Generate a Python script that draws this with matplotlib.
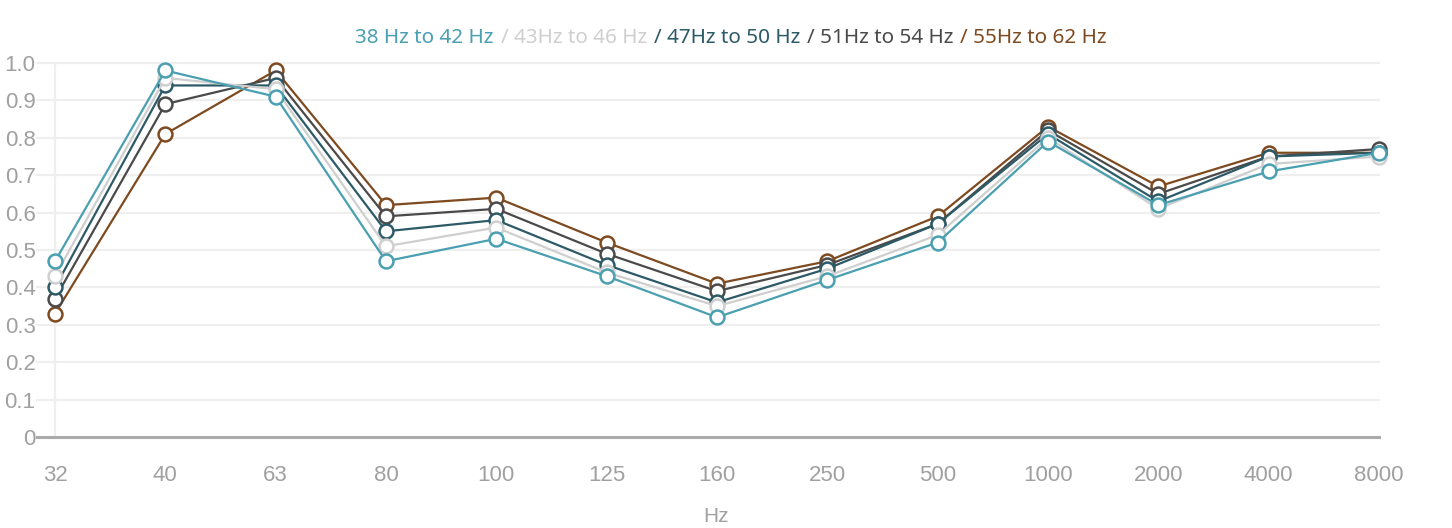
import matplotlib
matplotlib.use("Agg")
import matplotlib.pyplot as plt
from matplotlib.offsetbox import TextArea, HPacker, AnchoredOffsetbox

categories = ["32", "40", "63", "80", "100", "125", "160", "250", "500", "1000", "2000", "4000", "8000"]
series_names = ["38 Hz to 42 Hz", "43Hz to 46 Hz", "47Hz to 50 Hz", "51Hz to 54 Hz", "55Hz to 62 Hz"]
s_38_42 = [0.47, 0.98, 0.91, 0.47, 0.53, 0.43, 0.32, 0.42, 0.52, 0.79, 0.62, 0.71, 0.76]
s_43_46 = [0.43, 0.96, 0.93, 0.51, 0.56, 0.44, 0.35, 0.43, 0.54, 0.80, 0.61, 0.73, 0.75]
s_47_50 = [0.40, 0.94, 0.94, 0.55, 0.58, 0.46, 0.36, 0.45, 0.57, 0.81, 0.63, 0.75, 0.76]
s_51_54 = [0.37, 0.89, 0.96, 0.59, 0.61, 0.49, 0.39, 0.46, 0.57, 0.82, 0.65, 0.75, 0.77]
s_55_62 = [0.33, 0.81, 0.98, 0.62, 0.64, 0.52, 0.41, 0.47, 0.59, 0.83, 0.67, 0.76, 0.76]
y_ticks = [0, 0.1, 0.2, 0.3, 0.4, 0.5, 0.6, 0.7, 0.8, 0.9, 1.0]
y_tick_labels = ["0", "0.1", "0.2", "0.3", "0.4", "0.5", "0.6", "0.7", "0.8", "0.9", "1.0"]

series = [s_38_42, s_43_46, s_47_50, s_51_54, s_55_62]
colors = ["#4a9fb0", "#cfcfcf", "#2c5a67", "#4a4a4a", "#7e4a20"]

W, H = 1452, 528
fig = plt.figure(figsize=(W / 100, H / 100), dpi=100)
left_px, right_px, top_px, bot_px = 37, 1379, 63, 437
ax = fig.add_axes([left_px / W, 1 - bot_px / H, (right_px - left_px) / W, (bot_px - top_px) / H])

x = list(range(len(categories)))
x0 = -(55 - left_px) / ((right_px - 55) / (len(categories) - 1))
ax.set_xlim(x0, len(categories) - 1)
ax.set_ylim(0, 1.0)

for v in y_ticks[1:]:
    ax.axhline(v, color="#efefef", lw=1.6, zorder=0, clip_on=False)
ax.axvline(0, color="#efefef", lw=1.6, zorder=0)
ax.axhline(0, color="#aaaaaa", lw=2.2, zorder=1, clip_on=False)

for vals, col in reversed(list(zip(series, colors))):
    ax.plot(x, vals, color=col, lw=1.6, marker="o", markersize=10, markerfacecolor="white",
            markeredgecolor=col, markeredgewidth=1.8, clip_on=False, zorder=3)

for s in ax.spines.values():
    s.set_visible(False)
ax.set_yticks(y_ticks)
ax.set_yticklabels(y_tick_labels)
ax.set_xticks(x)
ax.set_xticklabels(categories)
ax.tick_params(axis="both", length=0, labelsize=16)
ax.tick_params(axis="y", pad=1)
ax.tick_params(axis="x", pad=20)
for lab in ax.get_xticklabels() + ax.get_yticklabels():
    lab.set_fontfamily("Liberation Sans")
    lab.set_color("#a0a0a0")

fig.text(716 / W, 1 - 526 / H, "Hz", ha="center", va="bottom", fontsize=15, color="#a0a0a0",
         family="Liberation Sans")

# Legend as colored header text
areas = []
for i, (name, col) in enumerate(zip(series_names, colors)):
    txt = name if i == 0 else "/ " + name
    areas.append(TextArea(txt, textprops=dict(color=col, fontsize=14.9, family="Noto Sans")))
box = HPacker(children=areas, align="center", pad=0, sep=5)
anch = AnchoredOffsetbox(loc="center", child=box, frameon=False,
                         bbox_to_anchor=(731 / W, 1 - 38 / H), bbox_transform=fig.transFigure, pad=0)
fig.add_artist(anch)

fig.savefig("out.png", dpi=100, facecolor="white")
